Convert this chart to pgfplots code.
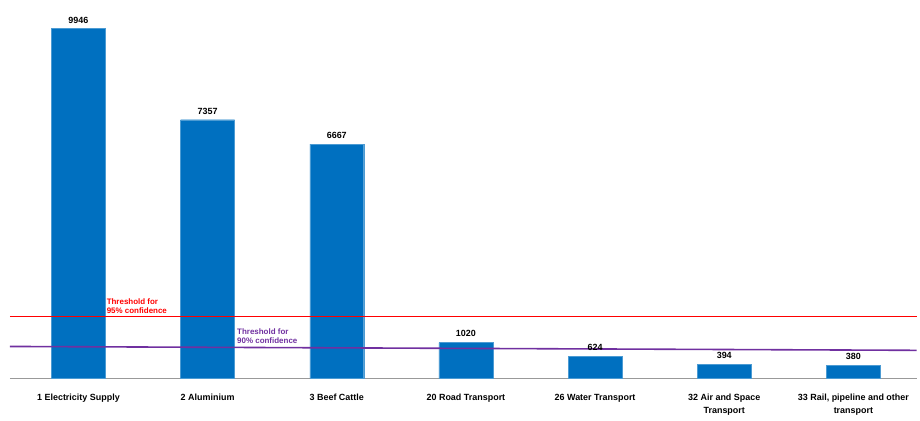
\documentclass[border=0pt]{standalone}
\usepackage{pgfplots}
\pgfplotsset{compat=1.18}
\usepackage{fontspec}
\setmainfont{Liberation Sans}
\definecolor{barblue}{RGB}{0,112,192}
\definecolor{thpurple}{RGB}{112,48,160}
\begin{document}
\begin{tikzpicture}
\begin{axis}[
  name=ax,
  scale only axis,
  width=908bp, height=374bp,
  xmin=-0.53, xmax=6.49,
  ymin=0, ymax=10620,
  axis y line=none,
  axis x line*=bottom,
  axis line style={draw=gray!80, line width=1.2pt},
  x axis line style={-},
  xtick={0,1,2,3,4,5,6},
  xticklabels={1 Electricity Supply, 2 Aluminium, 3 Beef Cattle, 20 Road Transport, 26 Water Transport, {32 Air and Space\\Transport}, {33 Rail, pipeline and other\\transport}},
  xticklabel style={font=\bfseries\fontsize{9}{13}\selectfont, align=center, yshift=-12bp},
  major tick length=0pt,
  clip=false,
  nodes near coords,
  /pgf/number format/.cd, 1000 sep={}, assume math mode=true, /pgfplots/.cd,
  every node near coord/.append style={font=\bfseries\fontsize{9}{10}\selectfont, black, yshift=2bp},
]
\addplot[ybar, bar width=54bp, fill=barblue, draw=barblue!70!white] coordinates {
(0,9946) (1,7357) (2,6667) (3,1020) (4,624) (5,394) (6,380)};
\addplot[red, line width=1.4pt, nodes near coords={}, forget plot] coordinates {(-0.53,1760) (6.49,1760)};
\addplot[thpurple, line width=1.6pt, nodes near coords={}, forget plot] coordinates {(-0.53,910) (6.49,800)};
\node[anchor=south west, red, font=\bfseries\fontsize{8}{9}\selectfont, align=left, inner sep=1pt] at (axis cs:0.21,1800) {Threshold for\\95\% confidence};
\node[anchor=south west, thpurple, font=\bfseries\fontsize{8}{9}\selectfont, align=left, inner sep=1pt] at (axis cs:1.22,950) {Threshold for\\90\% confidence};
\end{axis}
\path ([xshift=-10bp,yshift=-42bp]ax.south west) rectangle ([xshift=2bp,yshift=5bp]ax.north east);
\end{tikzpicture}
\end{document}
